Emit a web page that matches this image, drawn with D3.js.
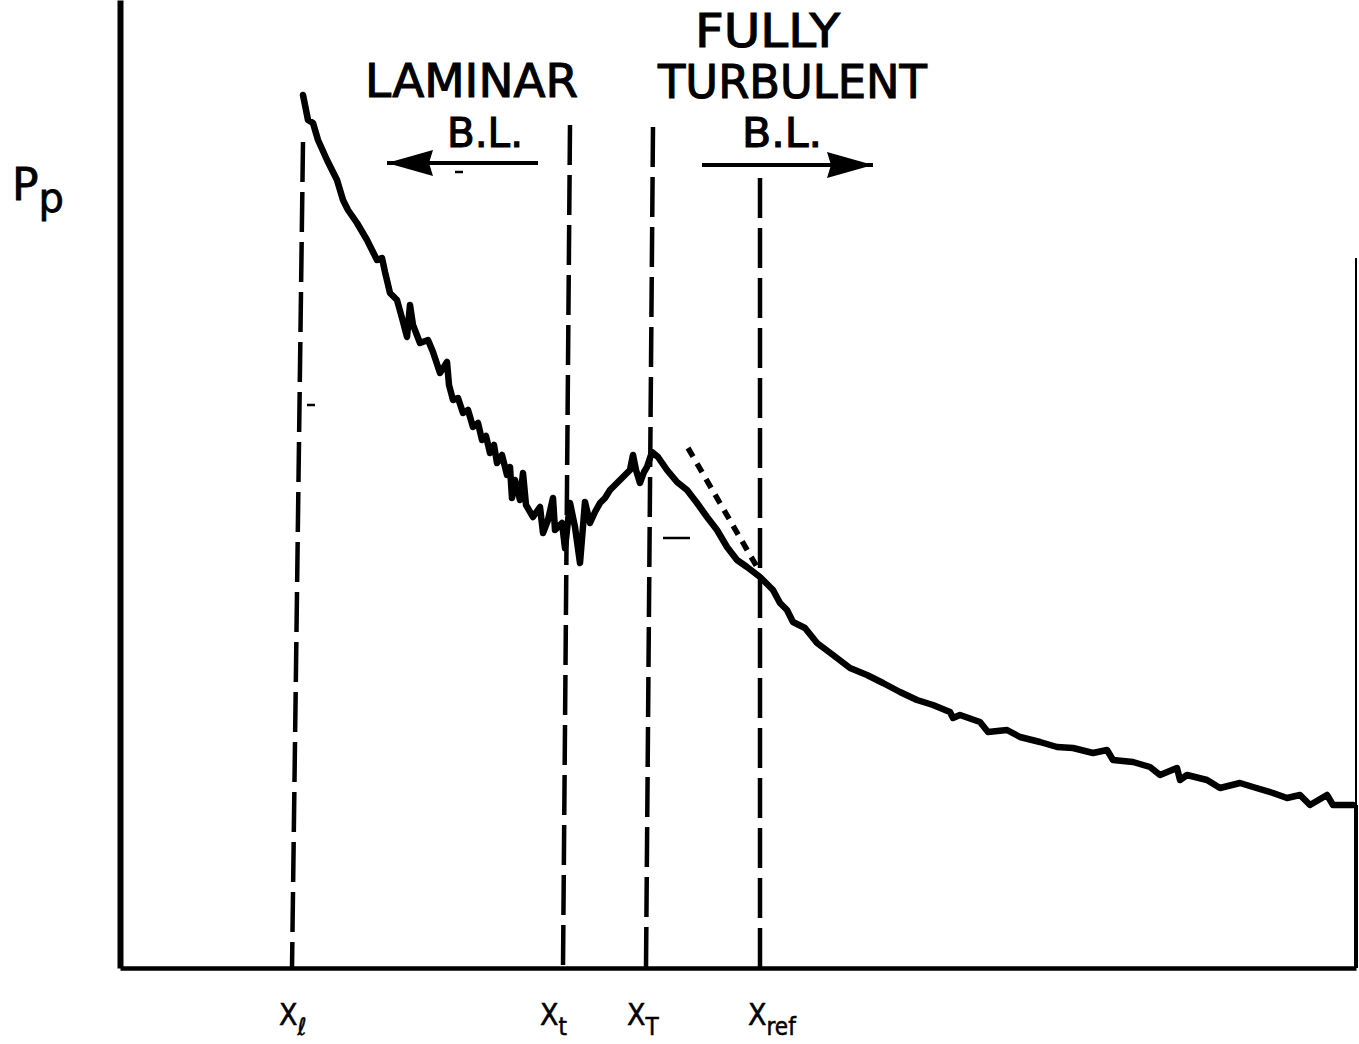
<!DOCTYPE html>
<html>
<head>
<meta charset="utf-8">
<script src="https://cdn.jsdelivr.net/npm/d3@7"></script>
<style>
  html, body { margin: 0; padding: 0; background: #fff; }
  svg { display: block; }
</style>
</head>
<body>
<svg id="chart" width="1359" height="1044"></svg>
<script>
// ---- data (x: distance along surface, y: pressure, arbitrary units) ----
const curveX = [18.3,18.8,19.3,19.8,20.7,21.7,22.3,22.8,23.7,24.7,25.7,26.2,26.5,27.0,27.7,28.2,28.7,29.0,29.3,30.0,30.8,31.3,32.0,32.7,32.9,33.3,33.8,34.3,34.8,35.3,35.8,36.2,36.6,37.0,37.4,37.7,38.2,38.7,39.0,39.2,39.5,40.0,40.3,40.6,41.3,42.0,42.3,42.8,43.3,43.5,44.2,44.5,45.0,45.5,46.0,46.5,47.0,47.5,48.0,48.5,49.0,49.5,50.0,50.5,51.0,51.3,51.6,52.0,52.4,52.7,53.2,53.8,54.7,55.7,56.7,57.7,58.7,59.7,60.7,61.7,62.7,64.0,65.3,66.0,66.7,67.3,68.5,69.7,71.3,73.0,74.7,76.3,78.0,79.7,81.3,83.0,83.3,84.0,86.0,86.8,88.7,90.0,92.0,93.7,95.3,97.3,98.7,99.3,101.3,103.0,104.0,105.7,106.0,106.7,108.7,110.0,112.0,113.3,115.3,116.7,118.0,119.0,120.7,121.3,123.3];
const curveY = [87.3,84.8,84.5,82.8,80.8,78.8,76.8,75.8,74.5,72.8,70.8,71.0,69.6,67.5,66.8,65.0,63.1,66.3,64.3,62.5,62.8,61.6,59.5,60.6,58.3,56.8,57.0,55.5,55.8,54.1,54.5,52.8,53.2,51.5,52.3,50.5,51.3,49.3,50.1,47.0,48.8,46.8,49.5,46.3,45.1,46.1,43.5,44.8,47.0,43.8,44.5,42.0,46.5,44.1,40.5,46.6,44.5,45.6,46.5,47.0,47.8,48.3,48.8,49.3,49.8,51.3,49.8,48.5,49.6,50.1,51.6,51.1,49.8,48.6,47.8,46.5,45.1,43.8,42.1,40.8,40.1,39.1,37.8,36.5,35.8,34.6,34.0,32.5,31.3,30.0,29.3,28.5,27.6,26.8,26.3,25.6,25.0,25.3,24.6,23.6,23.8,23.1,22.6,22.1,22.0,21.5,21.8,20.8,20.6,20.1,19.3,20.0,18.8,19.3,18.8,18.0,18.5,18.1,17.5,17.0,17.3,16.3,17.3,16.3,16.3];

// marker lines (x positions at the axis and at the top of each dashed line)
const markerSubs    = ["\u2113", "t", "T", "ref"];
const markerBottomX = [17.2, 44.3, 52.6, 64.0];
const markerTopX    = [18.3, 45.0, 53.3, 64.0];
const markerTopY    = [82.6, 84.3, 84.1, 79.0];
const markerLabelX  = [15.9, 42.0, 50.7, 62.8];

// dashed extrapolation line near x_ref
const tangentX = [56.8, 63.7];
const tangentY = [52.0, 40.1];

// region annotations
const annoText  = ["FULLY", "LAMINAR", "TURBULENT", "B.L.", "B.L."];
const annoX     = [64.75, 35.15, 67.25, 36.5, 66.2];
const annoY     = [92.1, 87.1, 87.0, 82.1, 82.1];
const annoWidth = [14.5, 21.3, 26.9, 7.6, 8.0];
const annoSize  = [46, 46, 46, 40, 40];

// arrows: [tail x, tip x, y]
const arrowTailX = [41.8, 58.2];
const arrowTipX  = [26.7, 75.3];
const arrowY     = [80.5, 80.3];

// small stray marks on the original
const speckX1 = [18.7, 54.3, 33.5];
const speckX2 = [19.5, 57.0, 34.3];
const speckY  = [56.3, 43.0, 79.6];

const xMax = 123.6, yMax = 96.8, frameTopY = 71.0;

// ---- drawing ----
const svg = d3.select("#chart");
const x = d3.scaleLinear().domain([0, xMax]).range([120, 1356]);
const y = d3.scaleLinear().domain([0, yMax]).range([968, 0]);

svg.append("rect").attr("width", 1359).attr("height", 1044).attr("fill", "#fff");

// axes
const gLeft = svg.append("g").attr("transform", `translate(${x(0)},0)`)
  .call(d3.axisLeft(y).tickValues([]).tickSizeOuter(0));
gLeft.select(".domain").attr("stroke", "#000").attr("stroke-width", 6);

const gBottom = svg.append("g").attr("transform", `translate(0,${y(0)})`)
  .call(d3.axisBottom(x).tickValues([]).tickSizeOuter(0));
gBottom.select(".domain").attr("stroke", "#000").attr("stroke-width", 4.5);

// right frame edge
svg.append("line")
  .attr("x1", x(xMax)).attr("x2", x(xMax))
  .attr("y1", y(frameTopY)).attr("y2", y(0))
  .attr("stroke", "#000").attr("stroke-width", 2);
svg.append("line")
  .attr("x1", x(xMax)).attr("x2", x(xMax))
  .attr("y1", y(curveY[curveY.length - 1])).attr("y2", y(0))
  .attr("stroke", "#000").attr("stroke-width", 4);

// dashed marker lines
const markers = markerSubs.map((s, i) => ({s, xb: markerBottomX[i], xt: markerTopX[i], yt: markerTopY[i], lx: markerLabelX[i]}));
svg.append("g").selectAll("line").data(markers).join("line")
  .attr("x1", d => x(d.xt)).attr("y1", d => y(d.yt))
  .attr("x2", d => x(d.xb)).attr("y2", y(0))
  .attr("stroke", "#000").attr("stroke-width", 4.5)
  .attr("stroke-dasharray", "40,10");

// marker labels
const lab = svg.append("g").selectAll("text").data(markers).join("text")
  .attr("x", d => x(d.lx)).attr("y", 1025)
  .attr("font-family", "DejaVu Sans Condensed, DejaVu Sans, sans-serif")
  .attr("font-size", 30).attr("fill", "#000").attr("stroke", "#000").attr("stroke-width", 0.5);
lab.append("tspan").text("X");
lab.append("tspan").attr("dy", 10).attr("font-size", 24).text(d => d.s);

// dashed extrapolation
svg.append("line")
  .attr("x1", x(tangentX[0])).attr("y1", y(tangentY[0]))
  .attr("x2", x(tangentX[1])).attr("y2", y(tangentY[1]))
  .attr("stroke", "#000").attr("stroke-width", 5.5)
  .attr("stroke-dasharray", "10,8");

// main curve
const pts = curveX.map((v, i) => [v, curveY[i]]);
svg.append("path").datum(pts)
  .attr("d", d3.line().x(d => x(d[0])).y(d => y(d[1])))
  .attr("fill", "none").attr("stroke", "#000")
  .attr("stroke-width", 6.5).attr("stroke-linejoin", "round").attr("stroke-linecap", "round");

// annotations
const annos = annoText.map((t, i) => ({t, x: annoX[i], y: annoY[i], w: annoWidth[i], s: annoSize[i]}));
svg.append("g").selectAll("text").data(annos).join("text")
  .attr("x", d => x(d.x)).attr("y", d => y(d.y))
  .attr("text-anchor", "middle")
  .attr("font-family", "DejaVu Sans, sans-serif")
  .attr("font-size", d => d.s)
  .attr("textLength", d => x(d.w) - x(0))
  .attr("lengthAdjust", "spacingAndGlyphs")
  .attr("fill", "#000").attr("stroke", "#000").attr("stroke-width", 1.1)
  .text(d => d.t);

// arrows
const arrows = arrowTailX.map((t, i) => ({t, p: arrowTipX[i], y: arrowY[i]}));
svg.append("g").selectAll("line").data(arrows).join("line")
  .attr("x1", d => x(d.t)).attr("y1", d => y(d.y))
  .attr("x2", d => x(d.p)).attr("y2", d => y(d.y))
  .attr("stroke", "#000").attr("stroke-width", 4);
svg.append("g").selectAll("path").data(arrows).join("path")
  .attr("d", d => {
    const dir = Math.sign(d.t - d.p);
    const tip = x(d.p), yy = y(d.y), base = tip + dir * 46;
    return `M${tip},${yy} L${base},${yy - 13} L${base - dir * 4},${yy} L${base},${yy + 13} Z`;
  })
  .attr("fill", "#000");

// stray marks
svg.append("g").selectAll("line").data(speckX1.map((a, i) => [a, speckX2[i], speckY[i]])).join("line")
  .attr("x1", d => x(d[0])).attr("x2", d => x(d[1]))
  .attr("y1", d => y(d[2])).attr("y2", d => y(d[2]))
  .attr("stroke", "#000").attr("stroke-width", 2.5);

// y label
const yl = svg.append("text").attr("x", 12).attr("y", 200)
  .attr("font-family", "DejaVu Sans, sans-serif").attr("font-size", 44).attr("fill", "#000")
  .attr("stroke", "#000").attr("stroke-width", 0.8);
yl.append("tspan").text("P");
yl.append("tspan").attr("dx", 0).attr("dy", 12).attr("font-size", 40).text("p");
</script>
</body>
</html>
